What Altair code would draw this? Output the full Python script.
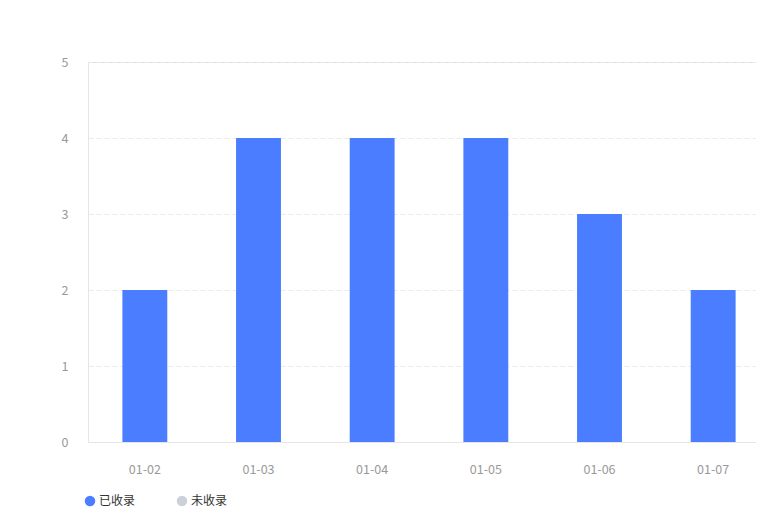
import altair as alt
import pandas as pd

dates = ["01-02", "01-03", "01-04", "01-05", "01-06", "01-07"]
included = [2, 4, 4, 4, 3, 2]
not_included = [0, 0, 0, 0, 0, 0]
series = ["已收录", "未收录"]
colors = ["#4a7dff", "#ccd1d9"]

rows = []
for d, a, b in zip(dates, included, not_included):
    rows.append({"date": d, "status": series[0], "value": a, "order": 0})
    rows.append({"date": d, "status": series[1], "value": b, "order": 1})
df = pd.DataFrame(rows)

FONT = "Noto Sans CJK SC"

chart = alt.Chart(df).mark_bar().encode(
    x=alt.X("date:N", sort=dates, title=None,
            scale=alt.Scale(paddingInner=0.605, paddingOuter=0.3025, range=[0, 682]),
            axis=alt.Axis(labelAngle=0, labelPadding=21, ticks=False,
                          domainColor="#e6e6e6", labelColor="#999999",
                          labelFontSize=12.5, labelFont=FONT)),
    y=alt.Y("value:Q", stack="zero", title=None,
            scale=alt.Scale(domain=[0, 5], nice=False),
            axis=alt.Axis(values=[0, 1, 2, 3, 4, 5], labelPadding=20, ticks=False,
                          domain=True, domainColor="#e6e6e6",
                          grid=True, gridColor="#ebebeb", gridDash=[5, 3],
                          labelColor="#999999", labelFontSize=12.5, labelFont=FONT)),
    color=alt.Color("status:N", sort=series,
                    scale=alt.Scale(domain=series, range=colors),
                    legend=alt.Legend(title=None, orient="none", direction="horizontal",
                                      legendX=-4, legendY=433,
                                      symbolType="circle", symbolSize=110,
                                      symbolStrokeWidth=0,
                                      labelFont=FONT, labelFontSize=12,
                                      labelColor="#333333", labelOffset=3,
                                      columnPadding=40)),
    order=alt.Order("order:Q"),
).properties(
    width=668, height=380,
    autosize=alt.AutoSizeParams(type="none"),
    padding={"left": 80, "top": 54, "right": 0, "bottom": 72},
).configure_view(stroke=None).configure(background="white")

chart.save("out.html", embed_options={"renderer": "svg", "actions": False})
